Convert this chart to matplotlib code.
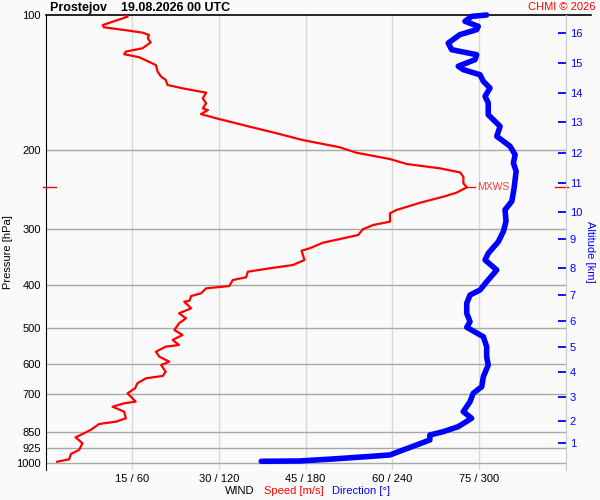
import matplotlib.pyplot as plt
from matplotlib.ticker import FixedLocator, NullLocator

plt.rcParams['font.family'] = ['Liberation Sans', 'DejaVu Sans']

# wind speed profile [hPa] / [m/s]
pres_speed = [100.0, 100.9, 102.6, 105.3, 106.5, 108.4, 109.5, 110.8, 112.7, 115.1,
              118.6, 120.7, 122.3, 124.2, 129.3, 133.8, 137.2, 139.6, 143.2, 145.7,
              149.0, 153.4, 157.4, 161.5, 162.9, 166.3, 169.9, 177.4, 182.6, 190.0,
              197.2, 202.8, 209.5, 214.9, 219.7, 224.3, 229.4, 237.3, 242.2, 249.0,
              254.2, 262.2, 272.2, 276.8, 288.9, 293.9, 300.5, 309.4, 314.7, 321.9,
              331.3, 335.4, 351.8, 361.0, 367.1, 373.6, 384.5, 389.9, 402.1, 406.9,
              417.5, 423.3, 433.6, 435.8, 450.8, 462.6, 474.6, 486.9, 503.9, 517.0,
              530.4, 544.2, 549.0, 563.3, 577.9, 593.0, 603.1, 624.2, 638.0, 645.6,
              662.4, 679.6, 697.4, 728.0, 734.1, 747.0, 766.3, 792.8, 806.7, 816.3,
              841.9, 859.6, 874.2, 901.4, 932.9, 952.3, 978.7, 991.0]
speed = [13.6, 14.2, 12.5, 9.9, 10.1, 14.5, 16.8, 17.9, 17.7, 18.2,
         16.8, 13.9, 13.6, 16.2, 19.1, 19.4, 20.0, 20.8, 21.1, 23.7,
         27.8, 27.2, 27.8, 27.2, 28.1, 26.9, 29.5, 35.3, 39.3, 44.5,
         50.9, 53.8, 59.6, 62.5, 68.2, 71.7, 72.3, 72.3, 72.9, 71.1,
         68.8, 64.8, 60.7, 59.6, 59.6, 56.7, 54.9, 54.1, 51.5, 48.0,
         45.7, 44.3, 44.8, 42.8, 38.8, 35.0, 34.7, 32.4, 31.8, 27.8,
         26.9, 25.2, 24.9, 24.0, 25.2, 23.1, 24.3, 23.1, 22.3, 23.7,
         22.0, 23.1, 20.8, 19.1, 19.7, 21.4, 20.0, 20.8, 20.3, 17.4,
         15.9, 15.5, 14.2, 15.6, 13.6, 11.6, 13.6, 13.9, 12.2, 9.3,
         7.8, 6.4, 5.2, 6.4, 5.8, 4.4, 4.1, 2.0]

# wind direction profile [hPa] / [deg]
pres_dir = [100.0, 100.7, 103.3, 106.0, 107.8, 110.6, 115.5, 119.5, 122.6, 125.8,
            130.1, 132.4, 135.9, 140.6, 145.5, 151.8, 157.1, 166.9, 177.1, 186.4,
            196.2, 204.9, 213.8, 223.1, 243.1, 260.3, 271.8, 288.4, 303.6, 320.2,
            339.9, 351.8, 370.3, 393.3, 410.4, 421.1, 439.4, 462.6, 482.9, 497.0,
            521.6, 549.0, 577.9, 603.1, 640.3, 674.2, 697.4, 728.0, 766.3, 792.8,
            827.8, 849.4, 864.0, 886.2, 909.3, 932.9, 957.2, 965.6, 977.1, 987.2,
            988.8]
direction = [305.3, 294.9, 290.3, 299.5, 298.4, 286.8, 278.7, 281.1, 298.4, 297.2,
             285.6, 289.1, 300.7, 303.0, 307.6, 304.2, 306.4, 306.4, 314.6, 312.3,
             321.5, 325.0, 323.8, 325.7, 324.3, 322.7, 318.0, 318.7, 316.9, 313.4,
             306.4, 304.2, 312.3, 305.3, 300.7, 293.8, 291.5, 291.5, 293.8, 291.5,
             303.0, 305.3, 305.3, 306.4, 303.0, 301.9, 296.0, 293.8, 289.1, 294.9,
             285.6, 275.2, 266.0, 266.0, 256.8, 247.5, 238.3, 222.1, 198.9, 175.8,
             149.3]

# altitude scale on the right
alt_km = [1, 2, 3, 4, 5, 6, 7, 8, 9, 10, 11, 12, 13, 14, 15, 16]
alt_pres = [901.4, 804.0, 709.8, 624.2, 549.0, 481.2, 421.1, 367.1, 315.8, 274.6,
            236.6, 203.4, 173.4, 149.0, 127.8, 109.9]

p_levels = [100, 200, 300, 400, 500, 600, 700, 850, 925, 1000]
spd_ticks = [15, 30, 45, 60, 75]

bg = '#fafafa'
fig = plt.figure(figsize=(6, 5), dpi=100, facecolor=bg)
ax = fig.add_axes([45.5 / 600, 30 / 500, 520.2 / 600, 455 / 500])
ax.set_facecolor(bg)
ax.set_yscale('log')
ax.set_ylim(1034, 100)
ax.set_xlim(0, 90)

ax.yaxis.set_major_locator(FixedLocator(p_levels))
ax.yaxis.set_minor_locator(NullLocator())
ax.set_yticklabels([str(p) for p in p_levels])
ax.set_xticks(spd_ticks)
ax.set_xticklabels([f'{s} / {s * 4}' for s in spd_ticks])
ax.tick_params(axis='y', length=0, pad=3.5, labelsize=8)
ax.tick_params(axis='x', length=0, pad=3, labelsize=8)

for p in p_levels[1:]:
    ax.axhline(p, color='#a8a8a8', lw=1, zorder=1)
for s in spd_ticks:
    ax.axvline(s, color='#d8d8d8', lw=1, zorder=0)
ax.axhline(100, xmin=0, xmax=(591 - 45.5) / 520.2, color='black', lw=1.2,
           clip_on=False, zorder=3)

for side in ['top', 'bottom']:
    ax.spines[side].set_visible(False)
ax.spines['left'].set_color('black')
ax.spines['right'].set_color('#cccccc')

# speed
ax.plot(speed, pres_speed, color='#ff0000', lw=1.6, zorder=4)

# max wind marker
i_max = speed.index(max(speed))
s_max, p_max = speed[i_max], pres_speed[i_max]
ax.plot([s_max, s_max + 1.4], [p_max, p_max], color='#ff0000', lw=1, zorder=4)
ax.text(s_max + 1.7, p_max, 'MXWS', color='#ff3c3c', fontsize=7.5, va='center')
ax.plot([-0.45, 1.8], [p_max, p_max], color='#ff0000', lw=1, clip_on=False, zorder=5)
ax.plot([88.1, 90.4], [p_max, p_max], color='#ff0000', lw=1, clip_on=False, zorder=5)

# direction
ax2 = ax.twiny()
ax2.set_xlim(0, 360)
ax2.axis('off')
ax2.plot(direction, pres_dir, color='#0000ff', lw=4, solid_capstyle='round',
         solid_joinstyle='round', clip_on=False, zorder=5)

# altitude axis
ax3 = ax.twinx()
ax3.set_yscale('log')
ax3.set_ylim(1034, 100)
ax3.yaxis.set_major_locator(FixedLocator(alt_pres))
ax3.yaxis.set_minor_locator(NullLocator())
ax3.set_yticklabels([str(a) for a in alt_km])
ax3.tick_params(axis='y', direction='in', length=6, width=1.3, color='#0000ff',
                labelcolor='#0000ff', labelsize=8, pad=3)
for side in ['top', 'bottom', 'left']:
    ax3.spines[side].set_visible(False)
ax3.spines['right'].set_color('#cccccc')

# texts
fig.text(50 / 600, 1 - 7.5 / 500, 'Prostejov    19.08.2026 00 UTC',
         fontsize=9, fontweight='bold', va='center', ha='left')
fig.text(596 / 600, 1 - 7.5 / 500, 'CHMI © 2026', color='#ff0000',
         fontsize=8, va='center', ha='right')
fig.text(8 / 600, 1 - 252 / 500, 'Pressure [hPa]', rotation=90,
         fontsize=8, va='center', ha='center')
fig.text(590 / 600, 1 - 252 / 500, 'Altitude [km]', rotation=270,
         color='#0000ff', fontsize=8, va='center', ha='center')
fig.text(225 / 600, 1 - 491 / 500, 'WIND', fontsize=8, va='center', ha='left')
fig.text(264 / 600, 1 - 491 / 500, 'Speed [m/s]', color='#ff0000',
         fontsize=8, va='center', ha='left')
fig.text(332 / 600, 1 - 491 / 500, 'Direction [°]', color='#0000ff',
         fontsize=8, va='center', ha='left')

fig.savefig('out.png', dpi=100, facecolor=bg)
